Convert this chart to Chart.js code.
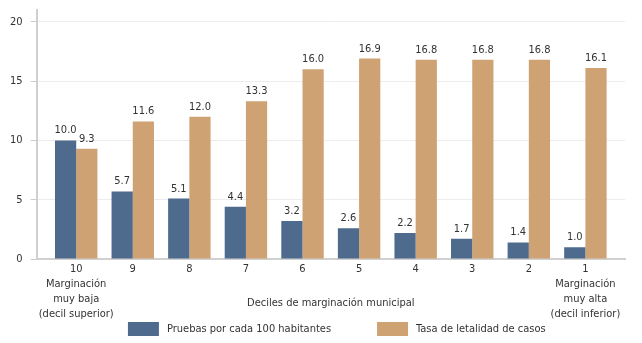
<!DOCTYPE html>
<html>
<head>
<meta charset="utf-8">
<script src="https://cdn.jsdelivr.net/npm/chart.js@4/dist/chart.umd.min.js"></script>
<style>
  html, body { margin:0; padding:0; background:#fff; }
  #wrap { width:642px; height:343px; }
</style>
</head>
<body>
<div id="wrap"><canvas id="chart" width="642" height="343"></canvas></div>
<script>
/* deciles de marginación: pruebas vs letalidad */
const deciles = [10, 9, 8, 7, 6, 5, 4, 3, 2, 1];
const tickLabels = [
  ['10', 'Marginación', 'muy baja', '(decil superior)'],
  '9', '8', '7', '6', '5', '4', '3', '2',
  ['1', 'Marginación', 'muy alta', '(decil inferior)']
];
const pruebas   = [10.0, 5.7, 5.1, 4.4, 3.2, 2.6, 2.2, 1.7, 1.4, 1.0];
const letalidad = [9.3, 11.6, 12.0, 13.3, 16.0, 16.9, 16.8, 16.8, 16.8, 16.1];
const yTicks = [0, 5, 10, 15, 20];
const seriesNames = ['Pruebas por cada 100 habitantes', 'Tasa de letalidad de casos'];

const FONT = '"DejaVu Sans Condensed", "Liberation Sans Narrow", "Roboto", sans-serif';
const TXT = '#333333';

// value labels above every bar
const valueLabels = {
  id: 'valueLabels',
  afterDatasetsDraw(chart){
    const ctx = chart.ctx;
    ctx.save();
    ctx.font = '11px ' + FONT;
    ctx.fillStyle = TXT;
    ctx.textAlign = 'center';
    ctx.textBaseline = 'alphabetic';
    chart.data.datasets.forEach((ds, di)=>{
      chart.getDatasetMeta(di).data.forEach((bar, i)=>{
        ctx.fillText(ds.data[i].y.toFixed(1), bar.x, bar.y - 7);
      });
    });
    ctx.restore();
  }
};

// legend row under the axis labels (boxes spaced wider than Chart.js padding allows)
const bottomLegend = {
  id: 'bottomLegend',
  afterDraw(chart){
    const ctx = chart.ctx, a = chart.chartArea;
    const boxW = 31, boxH = 14, gapText = 8, gapItem = 46;
    ctx.save();
    ctx.font = '11px ' + FONT;
    const items = chart.data.datasets.map(ds => ({ds, w: boxW + gapText + ctx.measureText(ds.label).width}));
    const total = items.reduce((s, it) => s + it.w, 0) + gapItem * (items.length - 1);
    let x = (a.left + a.right) / 2 + 6 - total / 2;
    const y = a.bottom + 63;
    ctx.textBaseline = 'middle';
    ctx.textAlign = 'left';
    items.forEach(it=>{
      ctx.fillStyle = it.ds.backgroundColor;
      ctx.fillRect(x, y, boxW, boxH);
      ctx.fillStyle = TXT;
      ctx.fillText(it.ds.label, x + boxW + gapText, y + boxH / 2);
      x += it.w + gapItem;
    });
    ctx.restore();
  }
};

const toPoints = arr => arr.map((v, i) => ({x: i, y: v}));

new Chart(document.getElementById('chart').getContext('2d'), {
  type: 'bar',
  data: {
    datasets: [
      {label: seriesNames[0], data: toPoints(pruebas),   backgroundColor: '#4e6a8d', borderWidth: 0},
      {label: seriesNames[1], data: toPoints(letalidad), backgroundColor: '#cfa274', borderWidth: 0}
    ]
  },
  options: {
    responsive: false,
    animation: false,
    categoryPercentage: 0.75,
    barPercentage: 1,
    layout: {padding: {top: 10, left: 2, right: 17, bottom: 18}},
    scales: {
      x: {
        type: 'linear',
        offset: false,
        bounds: 'data',
        min: -0.7, max: deciles.length - 0.3,
        afterBuildTicks: s => { s.ticks = deciles.map((_, i) => ({value: i})); },
        grid: {display: false, drawTicks: false},
        border: {display: true, color: '#d0d0d0', width: 2},
        ticks: {
          autoSkip: false, maxRotation: 0, padding: 3,
          color: TXT, font: {family: FONT, size: 11, lineHeight: '15px'},
          callback: v => tickLabels[v]
        },
        title: {
          display: true, text: 'Deciles de marginación municipal',
          color: TXT, font: {family: FONT, size: 11, lineHeight: '15px'},
          padding: {top: -29, bottom: 14}
        }
      },
      y: {
        min: 0, max: 21,
        afterBuildTicks: s => { s.ticks = yTicks.map(v => ({value: v})); },
        grid: {color: '#ececec', lineWidth: 1, drawTicks: true, tickLength: 6, tickColor: '#cccccc'},
        border: {display: true, color: '#d0d0d0', width: 2},
        ticks: {padding: 8, color: TXT, font: {family: FONT, size: 11, lineHeight: 0.2}}
      }
    },
    plugins: {
      tooltip: {enabled: false},
      legend: {display: false}
    }
  },
  plugins: [valueLabels, bottomLegend]
});
</script>
</body>
</html>
